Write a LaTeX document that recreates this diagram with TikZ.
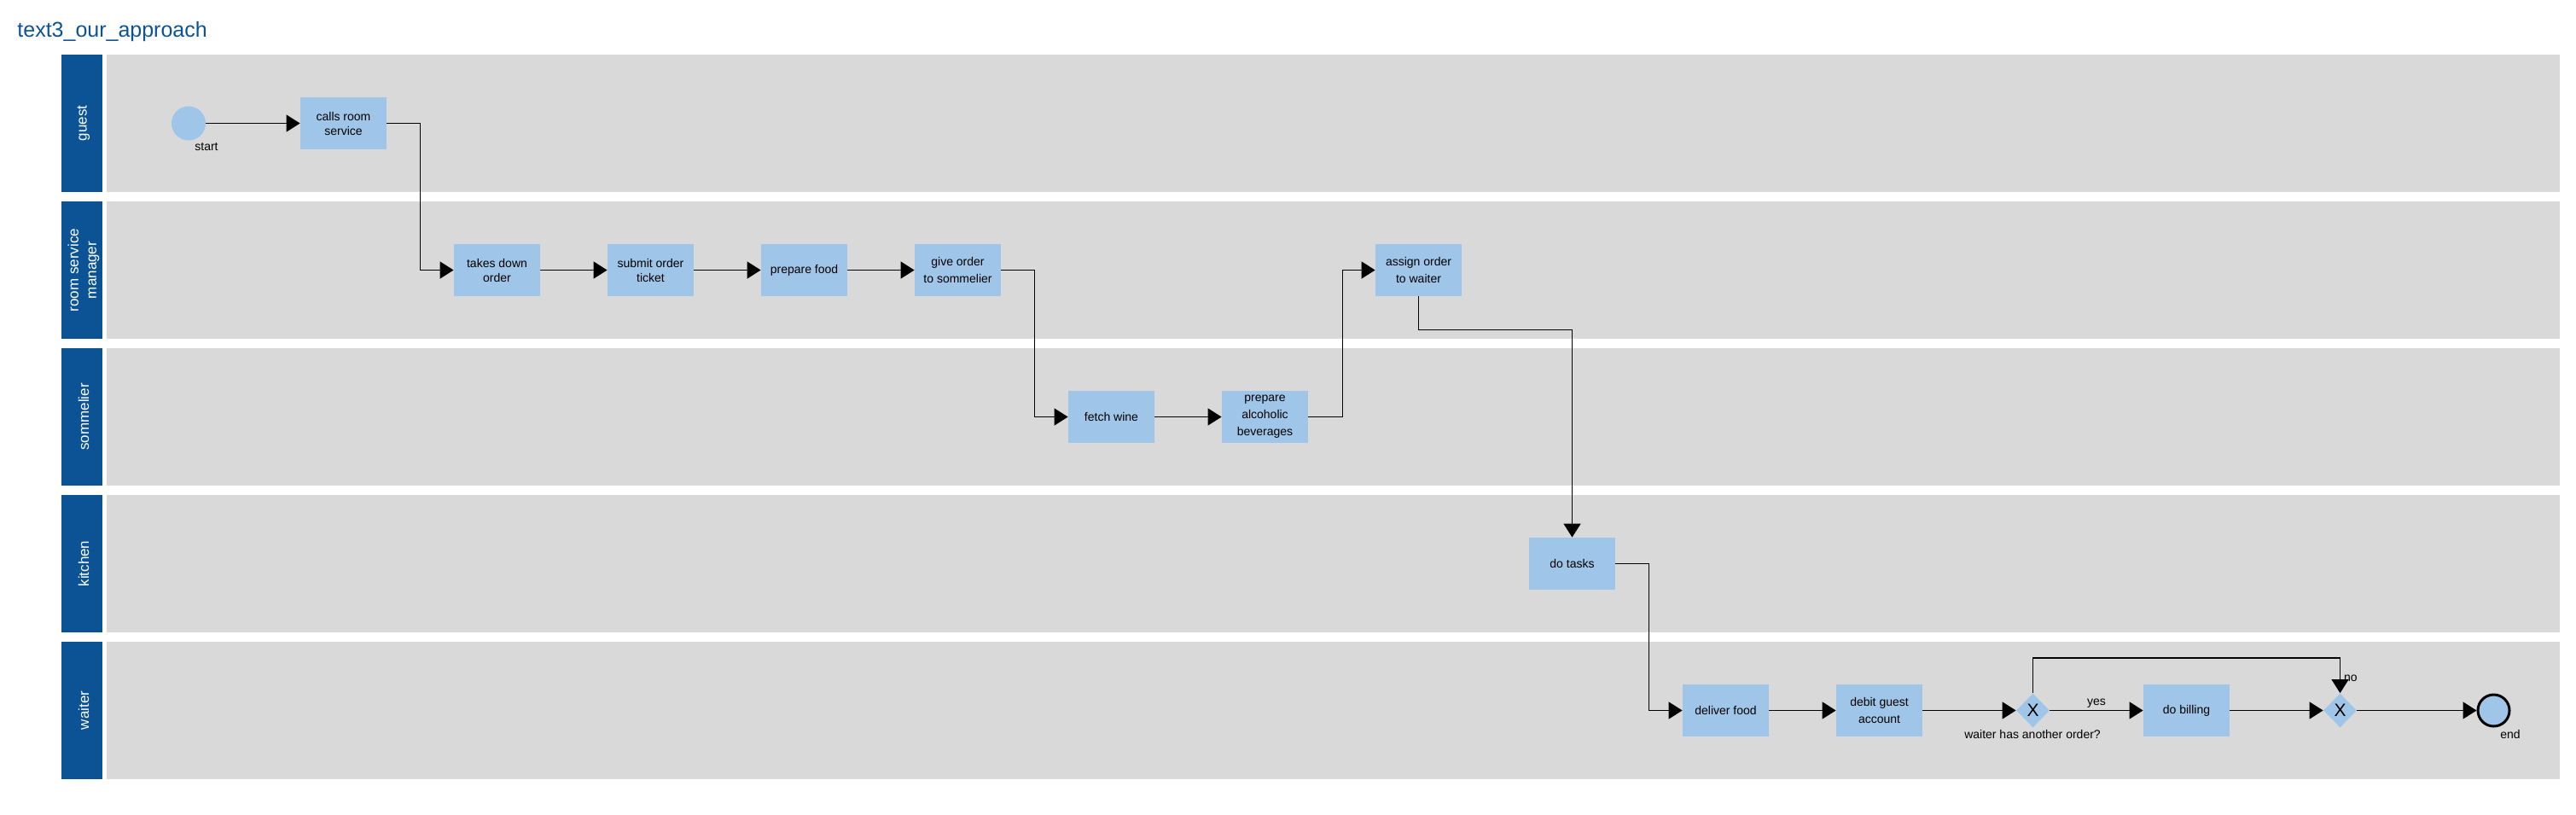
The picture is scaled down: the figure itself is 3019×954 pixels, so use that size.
\documentclass[tikz,border=0pt]{standalone}
\usepackage{fontspec}
\setmainfont{Liberation Sans}
\usetikzlibrary{shapes.geometric,arrows.meta}
\definecolor{lanegray}{HTML}{D9D9D9}
\definecolor{laneblue}{HTML}{0B5394}
\definecolor{taskblue}{HTML}{9FC5E8}

\begin{document}
\begin{tikzpicture}[x=0.5pt,y=-0.5pt]
				\tikzstyle{every node}=[font=\fontsize{7}{8.5}\selectfont]
				\tikzstyle{task}=[fill=taskblue,minimum width=50.5pt,minimum height=30.5pt,inner sep=1pt,align=center]
				\tikzstyle{event}=[circle,fill=taskblue,minimum size=20pt,inner sep=0pt]
				\tikzstyle{gateway}=[diamond,fill=taskblue,minimum width=19.5pt,minimum height=20pt,inner sep=0pt,font=\fontsize{10.5}{12}\selectfont]
				\tikzstyle{lanename}=[rotate=90,text=white,align=center,font=\fontsize{8.5}{10.5}\selectfont]
				\tikzstyle{flow}=[line width=0.65pt,-{Triangle[length=8pt,width=10pt]}]
				\useasboundingbox (0,0) rectangle (3019,954);
				\node[anchor=base west,inner sep=0pt,text=laneblue,font=\fontsize{12.5}{15}\selectfont] (title) at (20,43) {text3\_our\_approach};
				\foreach \lane [count=\i from 0] in {guest,{room service\\manager},sommelier,kitchen,waiter} {
					\fill[lanegray] (125,64+172*\i) rectangle (3000,225+172*\i);
					\fill[laneblue] (72,64+172*\i) rectangle (120,225+172*\i);
					\node[lanename] (lane\i) at (98,144.5+172*\i) {\lane};
				}
				\node[event] (start) at (221,144.5) {};
				\node (startlbl) at (242,172) {start};
				\node[task] (calls) at (402.5,144.5) {calls room\\service};
				\node[task] (takes) at (582.5,316.5) {takes down\\order};
				\node[task] (submit) at (762.5,316.5) {submit order\\ticket};
				\node[task] (food) at (942.5,316.5) {prepare food};
				\node[task] (give) at (1122.5,316.5) {give order\\[1.5pt]to sommelier};
				\node[task] (wine) at (1302.5,488.5) {fetch wine};
				\node[task] (bev) at (1482.5,488.5) {prepare\\[1.5pt]alcoholic\\[1.5pt]beverages};
				\node[task] (assign) at (1662.5,316.5) {assign order\\[1.5pt]to waiter};
				\node[task] (tasks) at (1842.5,660.5) {do tasks};
				\node[task] (deliver) at (2022.5,832.5) {deliver food};
				\node[task] (debit) at (2202.5,832.5) {debit guest\\[1.5pt]account};
				\node[gateway] (gw1) at (2382.5,832.5) {X};
				\node (gw1lbl) at (2382,860) {waiter has another order?};
				\node[task] (billing) at (2562.5,832.5) {do billing};
				\node[gateway] (gw2) at (2742.5,832.5) {X};
				\node[event,draw=black,line width=1.5pt,minimum size=18.5pt] (end) at (2922.5,832.5) {};
				\node (endlbl) at (2942,860) {end};
				\draw[flow] (start) -- (calls);
				\draw[flow] (calls.east) -- ++(39,0) |- (takes.west);
				\draw[flow] (takes) -- (submit);
				\draw[flow] (submit) -- (food);
				\draw[flow] (food) -- (give);
				\draw[flow] (give.east) -- ++(39,0) |- (wine.west);
				\draw[flow] (wine) -- (bev);
				\draw[flow] (bev.east) -- ++(40,0) |- (assign.west);
				\draw[flow] (assign.south) -- ++(0,39) -| (tasks.north);
				\draw[flow] (tasks.east) -- ++(39,0) |- (deliver.west);
				\draw[flow] (deliver) -- (debit);
				\draw[flow] (debit) -- (gw1);
				\draw[flow] (gw1) -- node[above,inner sep=1pt] {yes} (billing);
				\draw[flow] (billing) -- (gw2);
				\draw[flow] (gw1.north) -- ++(0,-41) -| node[pos=1,anchor=west,inner sep=1pt,xshift=1pt,yshift=8.5pt] {no} (gw2.north);
				\draw[flow] (gw2) -- (end);
\end{tikzpicture}
\end{document}
